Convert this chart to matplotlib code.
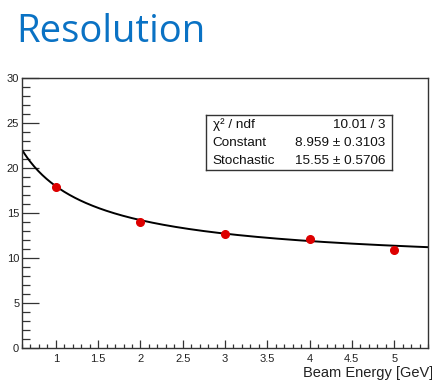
import numpy as np
import matplotlib
matplotlib.use("Agg")
import matplotlib.pyplot as plt
from matplotlib.ticker import MultipleLocator, FuncFormatter

# Data
energy = [1, 2, 3, 4, 5]
resolution = [17.9, 14.0, 12.6, 12.1, 10.85]
res_err = [0.35, 0.25, 0.2, 0.2, 0.2]
const_fit = 8.959
stoch_fit = 15.55
stats_labels = ["\u03c7\u00b2 / ndf", "Constant", "Stochastic"]
stats_values = ["10.01 / 3", "8.959 \u00b1 0.3103", "15.55 \u00b1 0.5706"]

W, H = 432, 382
fig = plt.figure(figsize=(W / 100, H / 100), dpi=100)
fig.patch.set_facecolor("white")

fig.text(16 / W, 1 - 42 / H, "Resolution", color="#0a72c4", fontsize=27.5,
         family="Open Sans", ha="left", va="baseline")

ax_l, ax_r, ax_t, ax_b = 22, 428, 77.5, 348
ax = fig.add_axes([ax_l / W, 1 - ax_b / H, (ax_r - ax_l) / W, (ax_b - ax_t) / H])
ax.set_xlim(0.6, 5.4)
ax.set_ylim(0, 30)

xf = np.linspace(0.6, 5.4, 300)
ax.plot(xf, np.sqrt(const_fit ** 2 + stoch_fit ** 2 / xf), color="black", lw=1.4, zorder=2)
ax.errorbar(energy, resolution, yerr=res_err, fmt="o", color="#dd0000", ms=5.5,
            ecolor="#222222", elinewidth=1.0, capsize=0, zorder=3)

ax.xaxis.set_major_locator(MultipleLocator(0.5))
ax.xaxis.set_minor_locator(MultipleLocator(0.1))
ax.yaxis.set_major_locator(MultipleLocator(5))
ax.yaxis.set_minor_locator(MultipleLocator(1))
ax.xaxis.set_major_formatter(FuncFormatter(lambda v, p: ("%g" % v) if v > 0.7 else ""))
ax.tick_params(which="both", direction="in", top=False, right=False, color="#333333",
               labelsize=8, labelcolor="#222222")
ax.tick_params(axis="x", which="major", length=6, width=0.9, pad=4)
ax.tick_params(axis="x", which="minor", length=3, width=0.9)
ax.tick_params(axis="y", which="major", length=12, width=0.9, pad=2)
ax.tick_params(axis="y", which="minor", length=5.5, width=0.9)
for lab in ax.get_xticklabels() + ax.get_yticklabels():
    lab.set_family("Liberation Sans")
for s in ax.spines.values():
    s.set_color("#333333")
    s.set_linewidth(1.0)

fig.text(433 / W, 1 - 377 / H, "Beam Energy [GeV]", ha="right", va="baseline",
         fontsize=10.5, family="Liberation Sans", color="#222222")

# Stats box
bx0, bx1, by0, by1 = 206, 392, 115, 170
ax_box = fig.add_axes([bx0 / W, 1 - by1 / H, (bx1 - bx0) / W, (by1 - by0) / H])
ax_box.set_xlim(0, 1)
ax_box.set_ylim(0, 1)
ax_box.set_xticks([])
ax_box.set_yticks([])
for s in ax_box.spines.values():
    s.set_color("#333333")
    s.set_linewidth(1.0)
rows_y = [0.82, 0.49, 0.165]
for lbl, val, yy in zip(stats_labels, stats_values, rows_y):
    ax_box.text(0.035, yy, lbl, ha="left", va="center", fontsize=9.7,
                family="Liberation Sans", color="#111111")
    ax_box.text(0.965, yy, val, ha="right", va="center", fontsize=9.7,
                family="Liberation Sans", color="#111111")

fig.savefig("out.png", dpi=100)
